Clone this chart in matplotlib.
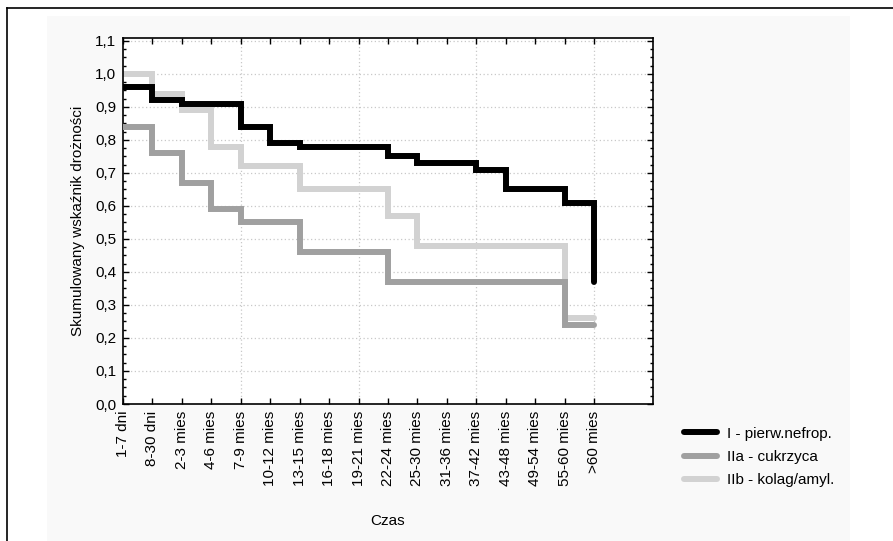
import matplotlib
matplotlib.use("Agg")
import matplotlib.pyplot as plt
from matplotlib.patches import Rectangle
from matplotlib.ticker import MultipleLocator

plt.rcParams['font.family'] = ['Liberation Sans', 'DejaVu Sans']

# okresy obserwacji
labels = ["1-7 dni", "8-30 dni", "2-3 mies", "4-6 mies", "7-9 mies", "10-12 mies",
          "13-15 mies", "16-18 mies", "19-21 mies", "22-24 mies", "25-30 mies",
          "31-36 mies", "37-42 mies", "43-48 mies", "49-54 mies", "55-60 mies", ">60 mies"]

# skumulowany wskaznik droznosci w kolejnych okresach
grp_I = [0.96, 0.92, 0.91, 0.91, 0.84, 0.79, 0.78, 0.78, 0.78, 0.75, 0.73, 0.73,
         0.71, 0.65, 0.65, 0.61, 0.37]
grp_IIa = [0.84, 0.76, 0.67, 0.59, 0.55, 0.55, 0.46, 0.46, 0.46, 0.37, 0.37, 0.37,
           0.37, 0.37, 0.37, 0.24, 0.24]
grp_IIb = [1.00, 0.94, 0.89, 0.78, 0.72, 0.72, 0.65, 0.65, 0.65, 0.57, 0.48, 0.48,
           0.48, 0.48, 0.48, 0.26, 0.26]

names = ["I - pierw.nefrop.", "IIa - cukrzyca", "IIb - kolag/amyl."]
colors = ["#000000", "#a0a0a0", "#d2d2d2"]

FS = 11
W, H = 893, 541
fig = plt.figure(figsize=(W / 100, H / 100), dpi=100)
fig.patch.set_facecolor("white")

# szare tlo okna + ramka
fig.patches.append(Rectangle((47 / W, 0), (850 - 47) / W, (H - 16) / H,
                             transform=fig.transFigure, facecolor="#f9f9f9",
                             edgecolor="none", zorder=-2))
fig.add_artist(plt.Line2D([7 / W, 7 / W], [0, 1 - 8 / H], color="black", lw=1.2,
                          transform=fig.transFigure))
fig.add_artist(plt.Line2D([7 / W, 1], [1 - 8 / H, 1 - 8 / H], color="black", lw=1.2,
                          transform=fig.transFigure))

ax = fig.add_axes([123 / W, (H - 404) / H, 530 / W, 366 / H])
ax.set_facecolor("white")

x = list(range(len(labels)))
lines = []
for vals, c, n, z in [(grp_IIb, colors[2], names[2], 2), (grp_IIa, colors[1], names[1], 3),
                      (grp_I, colors[0], names[0], 4)]:
    ln, = ax.step(x, vals, where="post", color=c, lw=4.3, label=n, zorder=z,
                  solid_joinstyle="miter", solid_capstyle="round")
    lines.append(ln)

ax.set_xlim(0, 18)
ax.set_ylim(0, 1.109)
ax.set_xticks(x)
ax.set_xticklabels(labels, rotation=90, fontsize=FS)
ax.set_yticks([i / 10 for i in range(12)])
ax.set_yticklabels([f"{i / 10:.1f}".replace(".", ",") for i in range(12)], fontsize=FS)
ax.yaxis.set_minor_locator(MultipleLocator(0.025))
ax.tick_params(axis="both", which="both", direction="in", top=True, right=True)
ax.tick_params(axis="both", which="major", length=4, width=1)
ax.tick_params(axis="both", which="minor", length=2.5, width=1)
ax.tick_params(axis="y", pad=5)
ax.tick_params(axis="x", pad=5)

# siatka
for gx in [4, 8, 12, 16]:
    ax.axvline(gx, color="#c8c8c8", lw=0.9, ls=(0, (1, 2)), zorder=1)
for gy in [i / 10 for i in range(1, 12)]:
    ax.axhline(gy, color="#c8c8c8", lw=0.9, ls=(0, (1, 2)), zorder=1)

for s in ax.spines.values():
    s.set_linewidth(1.2)

ax.set_ylabel("Skumulowany wskaźnik drożności", fontsize=FS, labelpad=7)
fig.text(388 / W, 1 - 521 / H, "Czas", fontsize=FS, ha="center", va="center")

handles = [lines[2], lines[1], lines[0]]
fig.legend(handles, names, loc="upper left", bbox_to_anchor=(670 / W, 1 - 413 / H),
           frameon=False, fontsize=FS, handlelength=2.2, handletextpad=0.65,
           labelspacing=0.6)

fig.savefig("out.png", dpi=100, facecolor=fig.get_facecolor())
